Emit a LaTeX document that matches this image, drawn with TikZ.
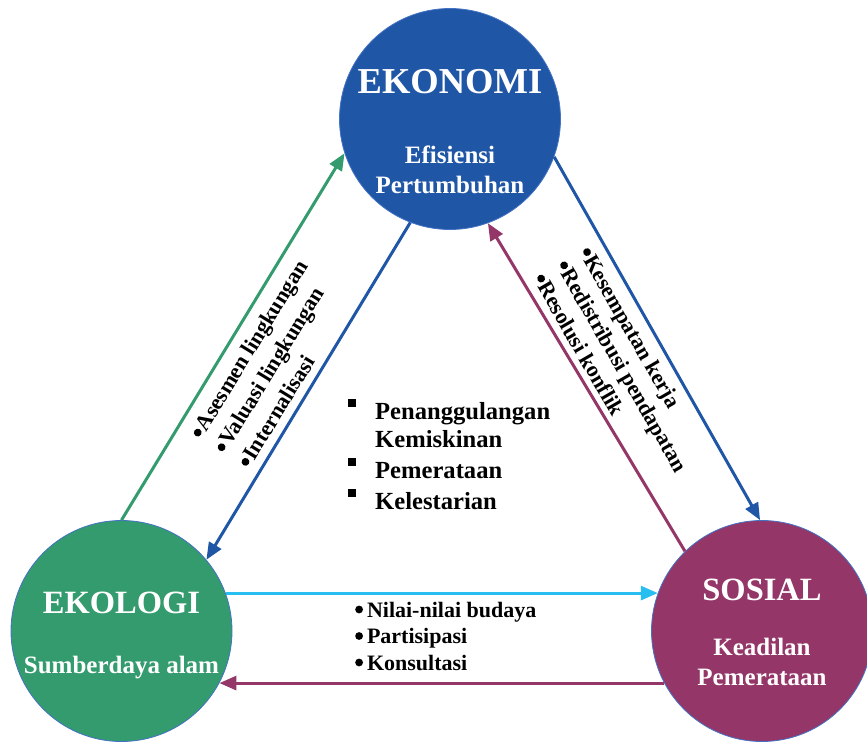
\documentclass[tikz,border=0pt]{standalone}
\usepackage{fontspec}
\setmainfont{Liberation Serif}
\usetikzlibrary{arrows.meta}

\definecolor{ekonblue}{RGB}{31,86,166}
\definecolor{ekolgreen}{RGB}{51,155,110}
\definecolor{sosplum}{RGB}{148,54,104}
\definecolor{skycyan}{RGB}{41,190,240}
\definecolor{rimblue}{RGB}{68,114,196}

% small filled square used as list marker
\newcommand{\sqmark}{\makebox[27pt][l]{\rule[0.5em]{7.5pt}{7.5pt}}}
% round list marker sitting slightly above the baseline
\newcommand{\dotmark}{\tikz[baseline=0pt]\fill (4pt,7.5pt) circle (3.9pt);}
% stacked lines whose baseline is that of the first line
\newcommand{\stacklines}[2]{\vtop{\baselineskip=#1\relax #2}}

\begin{document}
\begin{tikzpicture}[x=1pt,y=-1pt,
  pillar/.style={circle, draw=rimblue, line width=0.8pt, minimum size=221pt, inner sep=0pt},
  bigtitle/.style={text=white, font=\fontsize{36.5}{40}\selectfont\bfseries, inner sep=0pt, anchor=base},
  midtitle/.style={text=white, font=\fontsize{32.5}{38}\selectfont\bfseries, inner sep=0pt, anchor=base},
  subtitle/.style={text=white, font=\fontsize{25}{30}\selectfont\bfseries, inner sep=0pt, anchor=base},
  flow/.style={line width=3pt, -{Triangle[length=17pt,width=14pt]}},
  sidenote/.style={font=\fontsize{22}{26}\selectfont\bfseries, inner sep=0pt, anchor=base west},
  keylist/.style={font=\fontsize{24.6}{28}\selectfont\bfseries, inner sep=0pt, anchor=base west},
  bottomnote/.style={font=\fontsize{22}{26}\selectfont\bfseries, inner sep=0pt, anchor=base west}
]
\useasboundingbox (0,0) rectangle (867,742);

% the three pillars
\node[pillar, fill=ekonblue] (ekon) at (450,119) {};
\node[pillar, fill=ekolgreen] (ekol) at (121.5,631) {};
\node[pillar, fill=sosplum] (sos) at (762,631) {};

\node[bigtitle] (ekonT) at (450,93) {EKONOMI};
\node[subtitle] (ekonA) at (450,163) {Efisiensi};
\node[subtitle] (ekonB) at (450,193) {Pertumbuhan};

\node[midtitle] (ekolT) at (121.5,613) {EKOLOGI};
\node[subtitle] (ekolA) at (121.5,673) {Sumberdaya alam};

\node[midtitle] (sosT) at (762,600) {SOSIAL};
\node[subtitle] (sosA) at (762,655) {Keadilan};
\node[subtitle] (sosB) at (762,685) {Pemerataan};

% links between the pillars
\draw[flow, ekolgreen] (ekol.90) -- (ekon.198.6);
\draw[flow, ekonblue] (ekon.249) -- (ekol.40.7);
\draw[flow, ekonblue] (ekon.-20) -- (sos.91);
\draw[flow, sosplum] (sos.134.6) -- (ekon.290.4);
\draw[flow, skycyan] (ekol.20) -- (sos.160);
\draw[flow, sosplum] (sos.208.7) -- (ekol.-28.7);

% notes along the ecology--economy side
\node[sidenote, rotate=58.5] (lnotes) at (202,440)
  {\stacklines{28pt}{\hbox{\dotmark\hspace{1pt}Asesmen lingkungan}\hbox{\dotmark\hspace{1pt}Valuasi lingkungan}\hbox{\dotmark\hspace{1pt}Internalisasi}}};

% notes along the economy--social side
\node[sidenote, rotate=-60] (rnotes) at (578.5,252.3)
  {\stacklines{26.5pt}{\hbox{\dotmark\hspace{1pt}Kesempatan kerja}\hbox{\dotmark\hspace{1pt}Redistribusi pendapatan}\hbox{\dotmark\hspace{1pt}Resolusi konflik}}};

% central goals
\node[keylist] (c1) at (348,419) {\sqmark Penanggulangan};
\node[keylist] (c2) at (375,447) {Kemiskinan};
\node[keylist] (c3) at (348,478) {\sqmark Pemerataan};
\node[keylist] (c4) at (348,509) {\sqmark Kelestarian};

% notes between ecology and social
\node[bottomnote] (bnotes) at (355,617)
  {\stacklines{26.5pt}{\hbox{\dotmark\hspace{4pt}Nilai-nilai budaya}\hbox{\dotmark\hspace{4pt}Partisipasi}\hbox{\dotmark\hspace{4pt}Konsultasi}}};
\end{tikzpicture}
\end{document}
